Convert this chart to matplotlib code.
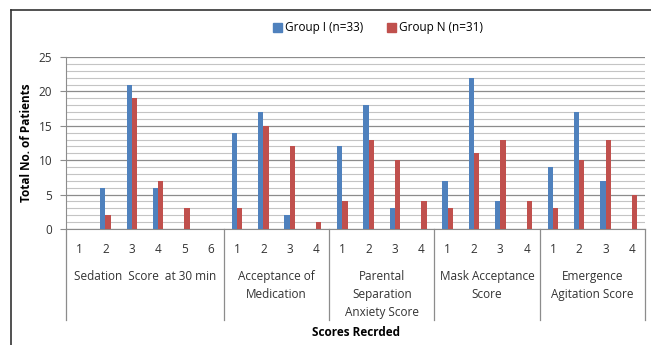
import numpy as np
import matplotlib.pyplot as plt
from matplotlib.patches import Patch

# data
groups = ['Sedation  Score  at 30 min', 'Acceptance of\nMedication',
          'Parental\nSeparation\nAnxiety Score', 'Mask Acceptance\nScore',
          'Emergence\nAgitation Score']
group_scores = [['1', '2', '3', '4', '5', '6'],
                ['1', '2', '3', '4'],
                ['1', '2', '3', '4'],
                ['1', '2', '3', '4'],
                ['1', '2', '3', '4']]
group_i = [0, 6, 21, 6, 0, 0,
           14, 17, 2, 0,
           12, 18, 3, 0,
           7, 22, 4, 0,
           9, 17, 7, 0]
group_n = [0, 2, 19, 7, 3, 0,
           3, 15, 12, 1,
           4, 13, 10, 4,
           3, 11, 13, 4,
           3, 10, 13, 5]

blue = '#4F81BD'
red = '#C0504D'
font = 'Open Sans'

fig = plt.figure(figsize=(6.51, 3.45), dpi=100)
ax = fig.add_axes([66/651, 1 - 229/345, (645 - 66)/651, (229 - 57)/345])

x = np.arange(len(group_i))
w = 0.2
ax.bar(x - w/2, group_i, w, color=blue, zorder=3)
ax.bar(x + w/2, group_n, w, color=red, zorder=3)

ax.set_xlim(-0.5, len(x) - 0.5)
ax.set_ylim(0, 25)
ax.set_yticks(range(0, 26, 5))
ax.set_yticks(range(0, 26), minor=True)
ax.grid(axis='y', which='major', color='#8c8c8c', lw=0.9, zorder=0)
ax.grid(axis='y', which='minor', color='#c4c4c4', lw=0.8, zorder=0)
ax.tick_params(axis='y', which='minor', length=0)
ax.tick_params(axis='y', which='major', length=4, color='#8c8c8c', pad=6,
               labelsize=8.5, labelcolor='#333333')
for lab in ax.get_yticklabels():
    lab.set_fontfamily(font)
ax.set_xticks([])
for s in ['top', 'right']:
    ax.spines[s].set_visible(False)
ax.spines['left'].set_color('#8c8c8c')
ax.spines['bottom'].set_color('#8c8c8c')

fig.text(27/651, 1 - 143/345, 'Total No. of Patients', rotation=90,
         ha='center', va='center', fontsize=8.5, fontweight='bold', family=font)

# multi-level category axis
tr = ax.get_xaxis_transform()
start = 0
ax.plot([-0.5, -0.5], [0, -0.53], transform=tr, color='#8c8c8c', lw=0.9, clip_on=False)
for g, scores in zip(groups, group_scores):
    n = len(scores)
    for k, s in enumerate(scores):
        ax.text(start + k, -0.12, s, transform=tr, ha='center', va='center',
                fontsize=8.5, family=font, color='#333333')
    ax.text(start + (n - 1)/2, -0.24, g, transform=tr, ha='center', va='top',
            fontsize=8.5, family=font, color='#333333', linespacing=1.5)
    start += n
    ax.plot([start - 0.5, start - 0.5], [0, -0.53], transform=tr, color='#8c8c8c',
            lw=0.9, clip_on=False)

fig.text(356/651, 1 - 332/345, 'Scores Recrded', ha='center', va='center',
         fontsize=8.5, fontweight='bold', family=font)

handles = [Patch(color=blue, label='Group I (n=33)'),
           Patch(color=red, label='Group N (n=31)')]
fig.legend(handles=handles, loc='center', bbox_to_anchor=(378/651, 1 - 28/345),
           ncol=2, frameon=False, handlelength=0.75, handleheight=0.75,
           handletextpad=0.3, columnspacing=2.0,
           prop={'family': font, 'size': 8.5})

# outer frame (left and top only visible)
fig.add_artist(plt.Line2D([11/651, 11/651], [0, 1 - 10/345], color='#333333', lw=1.2))
fig.add_artist(plt.Line2D([11/651, 1], [1 - 10/345, 1 - 10/345], color='#333333', lw=1.2))

fig.savefig('out.png', dpi=100)
